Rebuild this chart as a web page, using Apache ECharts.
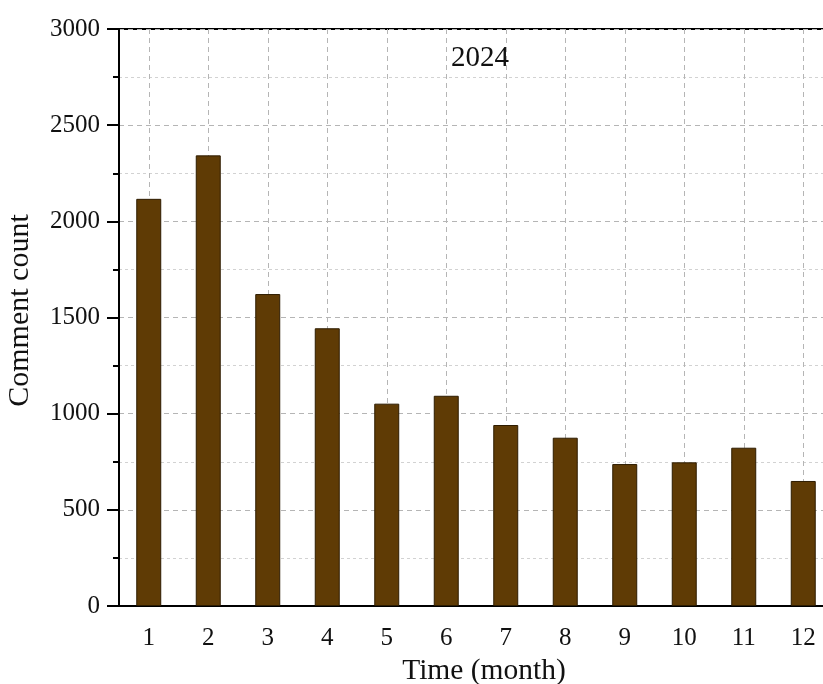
<!DOCTYPE html>
<html>
<head>
<meta charset="utf-8">
<script src="https://cdn.jsdelivr.net/npm/echarts@6/dist/echarts.min.js"></script>
<style>html,body{margin:0;padding:0;background:#fff;}#c{width:823px;height:684px;}</style>
</head>
<body>
<div id="c"></div>
<script>
const months = ['1','2','3','4','5','6','7','8','9','10','11','12'];
const commentCounts = [2117, 2343, 1622, 1444, 1052, 1093, 941, 875, 738, 747, 823, 650];
const yTicks = [0, 500, 1000, 1500, 2000, 2500, 3000];
const titleText = '2024';
const xName = 'Time (month)';
const yName = 'Comment count';

const FONT = '"Liberation Serif", "Times New Roman", serif';
const chart = echarts.init(document.getElementById('c'), null, {renderer: 'canvas'});
chart.setOption({
  animation: false,
  backgroundColor: '#fff',
  title: {
    text: titleText, left: 475, top: 39, textAlign: 'center',
    textStyle: {fontFamily: FONT, fontSize: 29, fontWeight: 'normal', color: '#111'}
  },
  grid: {left: 119, top: 29, width: 714, height: 577, containLabel: false, outerBoundsMode: 'none',
         show: true, borderColor: '#000', borderWidth: 2, backgroundColor: 'transparent'},
  xAxis: {
    type: 'category', data: months,
    name: xName, nameLocation: 'middle', nameGap: 48,
    nameTextStyle: {fontFamily: FONT, fontSize: 29.5, color: '#111', padding: [0, 0, 0, 16]},
    axisLine: {lineStyle: {color: '#000', width: 2}},
    axisTick: {alignWithLabel: true, length: 10, lineStyle: {color: '#000', width: 2}},
    axisLabel: {fontFamily: FONT, fontSize: 25, color: '#111', margin: 20},
    splitLine: {show: true, alignWithLabel: true, lineStyle: {color: '#b5b5b5', type: [5, 4], width: 1}}
  },
  yAxis: {
    type: 'value', min: yTicks[0], max: yTicks[yTicks.length - 1], interval: 500,
    name: yName, nameLocation: 'middle', nameGap: 84,
    nameTextStyle: {fontFamily: FONT, fontSize: 30, color: '#111', padding: [0, 0, 0, 14]},
    axisLine: {show: true, lineStyle: {color: '#000', width: 2}},
    axisTick: {show: true, length: 12, lineStyle: {color: '#000', width: 2}},
    minorTick: {show: true, splitNumber: 2, length: 6, lineStyle: {color: '#000', width: 2}},
    axisLabel: {fontFamily: FONT, fontSize: 25, color: '#111', margin: 19, formatter: v => String(v)},
    splitLine: {show: true, lineStyle: {color: '#b5b5b5', type: [5, 4], width: 1}},
    minorSplitLine: {show: true, lineStyle: {color: '#d2d2d2', type: [3, 3], width: 1}}
  },
  series: [{
    type: 'bar', data: commentCounts, barWidth: '42%',
    itemStyle: {color: '#5F3B05', borderColor: '#2e1c00', borderWidth: 1}
  }]
});
</script>
</body>
</html>
